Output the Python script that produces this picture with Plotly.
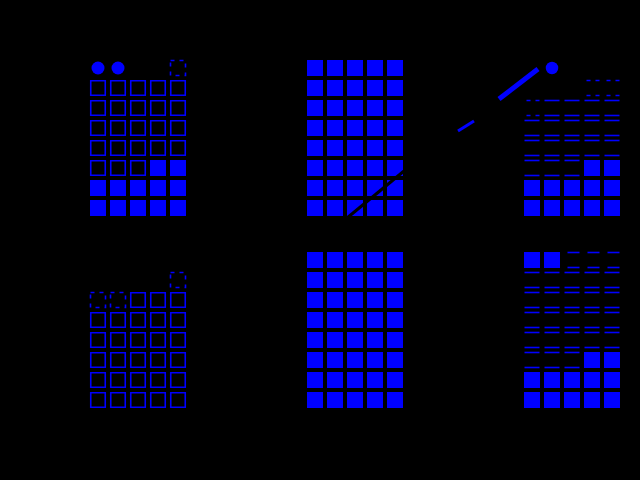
import plotly.graph_objects as go

# ---------------- data ----------------
N_ROWS = 8
N_COLS = 5
panel_names = ["A", "B", "C", "D", "E", "F"]
filled_counts = [12, 40, 12, 0, 40, 12]          # filled cells out of 40
empty_styles = ["open", "open", "hline", "open", "open", "hline"]
hidden_cells = [
    [(0, 2), (0, 3)],
    [],
    [(0, 0), (0, 2), (0, 3), (0, 4), (1, 0), (1, 1), (1, 2)],
    [(0, 0), (0, 1), (0, 2), (0, 3), (0, 4), (1, 0), (1, 1), (1, 2), (1, 3)],
    [],
    [],
]
dashed_cells = [
    [(0, 4)],
    [],
    [(1, 3), (1, 4), (2, 0)],
    [(1, 4), (2, 0), (2, 1)],
    [],
    [(0, 2), (0, 3), (0, 4)],
]
icon_cells = [
    [(0, 0), (0, 1)],
    [],
    [(0, 1)],
    [],
    [],
    [(0, 0), (0, 1)],
]
icon_symbols = ["circle", "circle", "circle", "circle", "circle", "square"]
icon_sizes = [13, 13, 12.5, 13, 13, 16]
dash_patterns = ["4px,5px", "4px,5px", "4px,5px", "4px,5px", "4px,5px", "12px,30px"]

# overlay trend line (page units)
trend_dark_x = [347, 404]
trend_dark_y = [218, 171]
trend_thin_x = [458, 474]
trend_thin_y = [131, 121]
trend_thick_x = [499, 520, 538]
trend_thick_y = [99, 82, 69]

# ---------------- layout constants ----------------
W, H = 640, 480
BLUE = "#0000ff"
panel_x0 = [88, 305, 522]
panel_y0 = [58, 250]
HALF = 0.375

fig = go.Figure()


def axis_names(i):
    s = "" if i == 0 else str(i + 1)
    return "x" + s, "y" + s


def cell_state(p, r, c):
    if (r, c) in hidden_cells[p]:
        return "hidden"
    k_from_end = (N_ROWS - 1 - r) * N_COLS + (N_COLS - 1 - c)
    if (r, c) in icon_cells[p]:
        return "icon"
    if (r, c) in dashed_cells[p]:
        return "dashed"
    if k_from_end < filled_counts[p]:
        return "filled"
    return "empty"


for p in range(6):
    xa, ya = axis_names(p)
    fx, fy, ex, ey, ix, iy = [], [], [], [], [], []
    lx, ly, dx, dy = [], [], [], []
    for r in range(N_ROWS):
        for c in range(N_COLS):
            st = cell_state(p, r, c)
            if st == "filled":
                fx.append(c); fy.append(r)
            elif st == "icon":
                ix.append(c); iy.append(r)
            elif st == "empty":
                if empty_styles[p] == "open":
                    ex.append(c); ey.append(r)
                else:
                    lx += [c - HALF, c + HALF, None, c - HALF, c + HALF, None]
                    ly += [r - HALF, r - HALF, None, r + HALF, r + HALF, None]
            elif st == "dashed":
                if empty_styles[p] == "open":
                    dx += [c - HALF, c + HALF, c + HALF, c - HALF, c - HALF, None]
                    dy += [r - HALF, r - HALF, r + HALF, r + HALF, r - HALF, None]
                else:
                    dx += [c + HALF, c - HALF, None, c + HALF, c - HALF, None]
                    dy += [r - HALF, r - HALF, None, r + HALF, r + HALF, None]
    if fx:
        fig.add_trace(go.Scatter(x=fx, y=fy, mode="markers", xaxis=xa, yaxis=ya,
                                 marker=dict(symbol="square", size=16, color=BLUE,
                                             line=dict(width=0)),
                                 hoverinfo="skip", name=panel_names[p]))
    if ex:
        fig.add_trace(go.Scatter(x=ex, y=ey, mode="markers", xaxis=xa, yaxis=ya,
                                 marker=dict(symbol="square-open", size=14.5, color=BLUE,
                                             line=dict(width=1.6, color=BLUE)),
                                 hoverinfo="skip"))
    if ix:
        fig.add_trace(go.Scatter(x=ix, y=iy, mode="markers", xaxis=xa, yaxis=ya,
                                 marker=dict(symbol=icon_symbols[p], size=icon_sizes[p],
                                             color=BLUE, line=dict(width=0)),
                                 hoverinfo="skip"))
    if lx:
        fig.add_trace(go.Scatter(x=lx, y=ly, mode="lines", xaxis=xa, yaxis=ya,
                                 line=dict(color=BLUE, width=1.6),
                                 hoverinfo="skip", connectgaps=False))
    if dx:
        fig.add_trace(go.Scatter(x=dx, y=dy, mode="lines", xaxis=xa, yaxis=ya,
                                 line=dict(color=BLUE, width=1.6, dash=dash_patterns[p]),
                                 hoverinfo="skip", connectgaps=False))

# overlay axis for the trend line
fig.add_trace(go.Scatter(x=trend_dark_x, y=trend_dark_y, mode="lines", xaxis="x7", yaxis="y7",
                         line=dict(color="black", width=3), hoverinfo="skip"))
fig.add_trace(go.Scatter(x=trend_thin_x, y=trend_thin_y, mode="lines", xaxis="x7", yaxis="y7",
                         line=dict(color=BLUE, width=3), hoverinfo="skip"))
fig.add_trace(go.Scatter(x=trend_thick_x, y=trend_thick_y, mode="lines", xaxis="x7", yaxis="y7",
                         line=dict(color=BLUE, width=5), hoverinfo="skip"))

layout = dict(
    width=W, height=H, margin=dict(l=0, r=0, t=0, b=0, pad=0),
    paper_bgcolor="black", plot_bgcolor="rgba(0,0,0,0)", showlegend=False,
)
for p in range(6):
    col = p % 3
    row = p // 3
    x0 = panel_x0[col]
    y0 = panel_y0[row]
    s = "" if p == 0 else str(p + 1)
    layout["xaxis" + s] = dict(domain=[x0 / W, (x0 + 100) / W], range=[-0.5, 4.5],
                               visible=False, fixedrange=True,
                               anchor="y" + s)
    layout["yaxis" + s] = dict(domain=[1 - (y0 + 160) / H, 1 - y0 / H], range=[7.5, -0.5],
                               visible=False, fixedrange=True,
                               anchor="x" + s)
layout["xaxis7"] = dict(domain=[0, 1], range=[0, W], visible=False, fixedrange=True, anchor="y7")
layout["yaxis7"] = dict(domain=[0, 1], range=[H, 0], visible=False, fixedrange=True, anchor="x7")
fig.update_layout(**layout)

fig.write_html("out.html", config={"displayModeBar": False})
